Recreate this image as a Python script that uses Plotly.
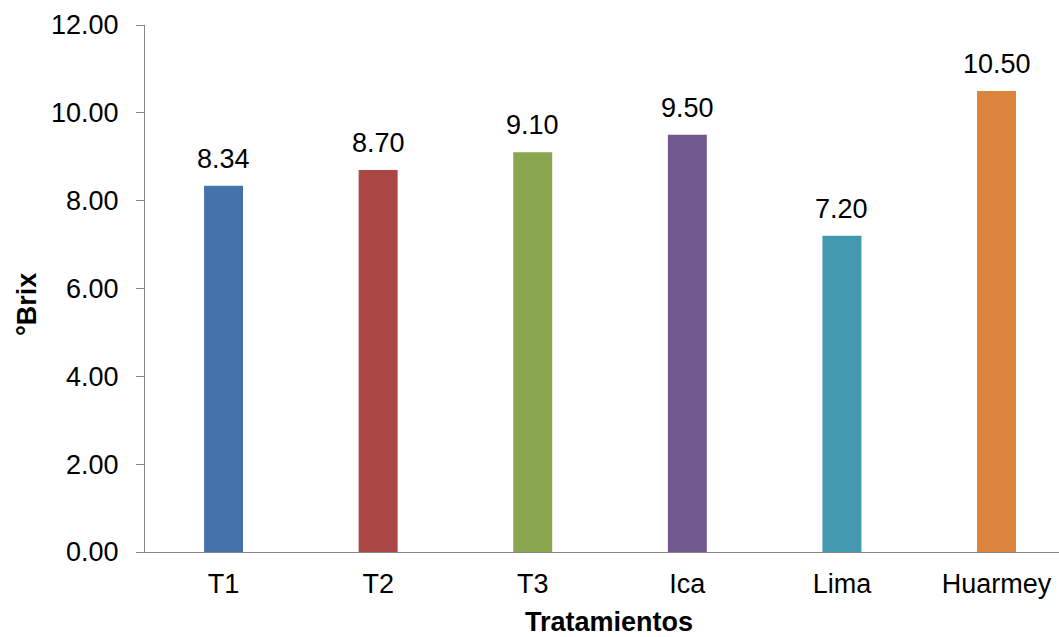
import plotly.graph_objects as go

# Sólidos solubles por tratamiento
tratamientos = ["T1", "T2", "T3", "Ica", "Lima", "Huarmey"]
brix = [8.34, 8.70, 9.10, 9.50, 7.20, 10.50]
colores = ["#4572A7", "#AA4643", "#89A54E", "#71588F", "#4198AF", "#DB843D"]
y_ticks = [0, 2, 4, 6, 8, 10, 12]

FONT = "Liberation Sans, Arial, sans-serif"
AXIS_GRAY = "#868686"

fig = go.Figure()
fig.add_trace(go.Bar(
    x=list(range(len(tratamientos))),
    y=brix,
    marker=dict(color=colores, line=dict(width=0)),
    width=0.252,
    hoverinfo="skip",
))

# Value labels above each bar
for i, v in enumerate(brix):
    fig.add_annotation(
        x=i, y=v, xref="x", yref="y",
        text=f"{v:.2f}", showarrow=False,
        yanchor="bottom", yshift=10,
        font=dict(family=FONT, size=27, color="black"),
    )

# Axis titles, positioned in pixels and converted to paper coordinates
plot_w = 1059 - 145
plot_h = 637 - 25 - 85
fig.add_annotation(
    x=(609 - 145) / plot_w, y=-0.133, xref="paper", yref="paper",
    text="<b>Tratamientos</b>", showarrow=False,
    xanchor="center", yanchor="middle",
    font=dict(family=FONT, size=27, color="black"),
)
fig.add_annotation(
    x=(27 - 145) / plot_w, y=(552 - 305) / plot_h, xref="paper", yref="paper",
    text="<b>°Brix</b>", showarrow=False, textangle=-90,
    xanchor="center", yanchor="middle",
    font=dict(family=FONT, size=27, color="black"),
)

fig.update_layout(
    width=1059, height=637,
    margin=dict(l=145, r=0, t=25, b=85),
    paper_bgcolor="white", plot_bgcolor="white",
    showlegend=False,
    font=dict(family=FONT, size=27, color="black"),
    xaxis=dict(
        tickmode="array",
        tickvals=list(range(len(tratamientos))),
        ticktext=tratamientos,
        range=[-0.508, 5.404],
        showline=True, linecolor=AXIS_GRAY, linewidth=1,
        ticks="", showgrid=False, zeroline=False,
        ticklabelstandoff=8,
        tickfont=dict(family=FONT, size=27, color="black"),
    ),
    yaxis=dict(
        range=[0, 12],
        tickmode="array", tickvals=y_ticks,
        tickformat=".2f",
        showline=True, linecolor=AXIS_GRAY, linewidth=1,
        ticks="outside", ticklen=8, tickcolor=AXIS_GRAY, tickwidth=1,
        showgrid=False, zeroline=False,
        ticklabelstandoff=12,
        tickfont=dict(family=FONT, size=27, color="black"),
    ),
)

fig.write_html("out.html")
